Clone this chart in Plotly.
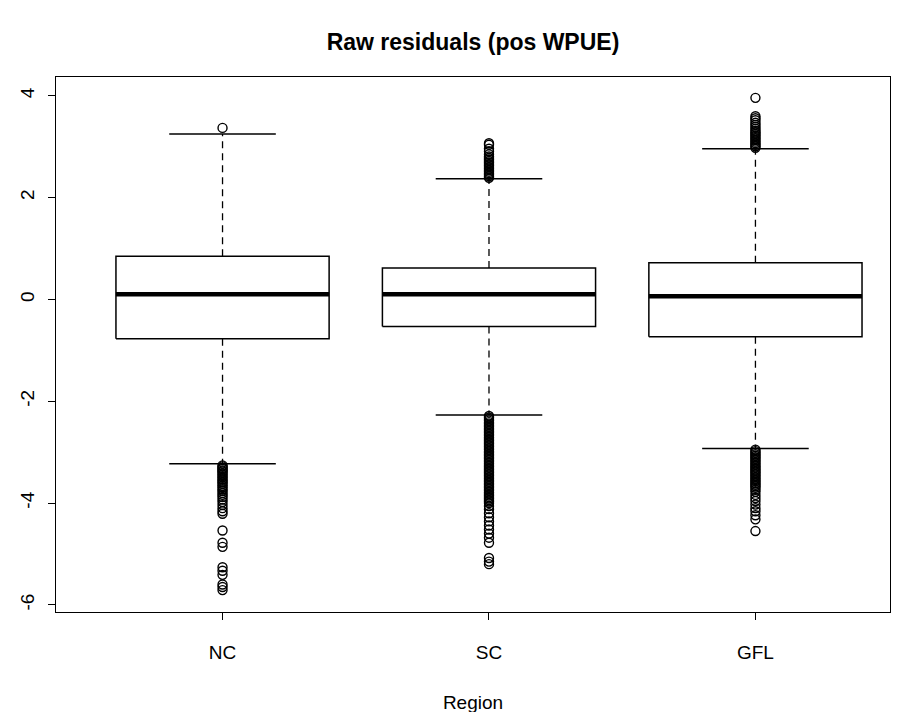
import plotly.graph_objects as go

regions = ["NC", "SC", "GFL"]
lower_whisker = [-3.23, -2.27, -2.93]
q1 = [-0.77, -0.53, -0.735]
median = [0.10, 0.10, 0.065]
q3 = [0.85, 0.62, 0.72]
upper_whisker = [3.25, 2.37, 2.96]

outliers_nc = [3.37,
               -3.26, -3.28, -3.31, -3.33, -3.36, -3.38, -3.41, -3.44, -3.47, -3.50,
               -3.53, -3.56, -3.59, -3.62, -3.66, -3.69, -3.73, -3.76, -3.80, -3.84,
               -3.88, -3.93, -3.98, -4.04, -4.10, -4.16, -4.21, -4.54, -4.78, -4.86,
               -5.26, -5.33, -5.41, -5.60, -5.65, -5.71]
outliers_sc = [2.39, 2.42, 2.45, 2.48, 2.51, 2.54, 2.57, 2.60, 2.63, 2.66, 2.69,
               2.72, 2.75, 2.78, 2.81, 2.85, 2.91, 2.96, 3.04, 3.07,
               -2.29, -2.32, -2.35, -2.38, -2.41, -2.44, -2.47, -2.50, -2.53, -2.56,
               -2.59, -2.62, -2.65, -2.68, -2.71, -2.74, -2.77, -2.80, -2.83, -2.86,
               -2.89, -2.92, -2.95, -2.98, -3.01, -3.04, -3.07, -3.10, -3.13, -3.16,
               -3.19, -3.22, -3.25, -3.28, -3.31, -3.34, -3.37, -3.40, -3.43, -3.46,
               -3.49, -3.52, -3.55, -3.58, -3.61, -3.64, -3.67, -3.70, -3.73, -3.76,
               -3.79, -3.82, -3.85, -3.88, -3.91, -3.94, -3.97, -4.00, -4.06, -4.12,
               -4.20, -4.28, -4.36, -4.44, -4.52, -4.60, -4.68, -4.78, -5.08, -5.15,
               -5.20]
outliers_gfl = [2.98, 3.01, 3.04, 3.07, 3.10, 3.13, 3.16, 3.19, 3.22, 3.25, 3.28,
                3.31, 3.35, 3.39, 3.43, 3.47, 3.52, 3.56, 3.60, 3.96,
                -2.95, -2.98, -3.01, -3.04, -3.07, -3.10, -3.13, -3.16, -3.19, -3.22,
                -3.25, -3.28, -3.31, -3.34, -3.37, -3.40, -3.43, -3.46, -3.49, -3.52,
                -3.55, -3.58, -3.61, -3.64, -3.67, -3.70, -3.74, -3.78, -3.84, -3.90,
                -3.96, -4.03, -4.10, -4.16, -4.24, -4.32, -4.55]
outliers = [outliers_nc, outliers_sc, outliers_gfl]

y_ticks = [-6, -4, -2, 0, 2, 4]

HALF = 0.4   # half box width (boxwex 0.8)
CAP = 0.2    # half staple width
FONT = "Liberation Sans, Arial, sans-serif"

fig = go.Figure()
for i, name in enumerate(regions):
    c = i + 1
    fig.add_trace(go.Scatter(
        x=[c - HALF, c + HALF, c + HALF, c - HALF, c - HALF],
        y=[q1[i], q1[i], q3[i], q3[i], q1[i]],
        mode="lines", line=dict(color="black", width=1.5),
        fill="toself", fillcolor="white", showlegend=False, hoverinfo="skip"))
    fig.add_trace(go.Scatter(
        x=[c - HALF, c + HALF], y=[median[i], median[i]],
        mode="lines", line=dict(color="black", width=4.5),
        showlegend=False, hoverinfo="skip"))
    fig.add_trace(go.Scatter(
        x=[c, c, None, c, c],
        y=[q3[i], upper_whisker[i], None, q1[i], lower_whisker[i]],
        mode="lines", line=dict(color="black", width=1.3, dash="7px,5px"),
        showlegend=False, hoverinfo="skip"))
    fig.add_trace(go.Scatter(
        x=[c - CAP, c + CAP, None, c - CAP, c + CAP],
        y=[upper_whisker[i], upper_whisker[i], None, lower_whisker[i], lower_whisker[i]],
        mode="lines", line=dict(color="black", width=1.5),
        showlegend=False, hoverinfo="skip"))
    fig.add_trace(go.Scatter(
        x=[c] * len(outliers[i]), y=outliers[i],
        mode="markers",
        marker=dict(symbol="circle-open", size=9, color="black", line=dict(width=1.4)),
        showlegend=False))

fig.update_layout(
    width=901, height=712,
    margin=dict(l=48, r=19, t=69, b=108, autoexpand=False),
    paper_bgcolor="white", plot_bgcolor="white",
    font=dict(family=FONT, size=19, color="black"),
    title=dict(text="<b>Raw residuals (pos WPUE)</b>", x=0.5, xref="paper",
               xanchor="center", y=1 - 34 / 712, yref="container", yanchor="middle",
               font=dict(family=FONT, size=23, color="black")),
    xaxis=dict(range=[0.375, 3.505], tickmode="array", tickvals=[1, 2, 3],
               ticktext=regions, showgrid=False, zeroline=False, automargin=False,
               showline=True, mirror=True, linecolor="black", linewidth=1.3,
               ticks="outside", ticklen=7, tickwidth=1.3, tickcolor="black",
               ticklabelstandoff=16,
               title=dict(text="Region", standoff=33, font=dict(size=19))),
    yaxis=dict(range=[-6.14, 4.37], tickmode="array", tickvals=y_ticks,
               ticktext=[str(v) for v in y_ticks], tickangle=-90,
               showgrid=False, zeroline=False, automargin=False,
               showline=True, mirror=True, linecolor="black", linewidth=1.3,
               ticks="outside", ticklen=7, tickwidth=1.3, tickcolor="black",
               ticklabelstandoff=6),
)

fig.write_html("out.html")
